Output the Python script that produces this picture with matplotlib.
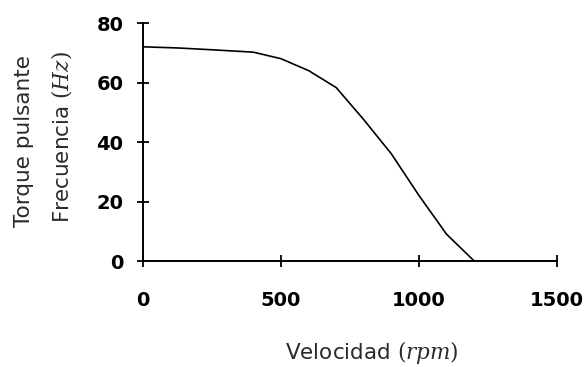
#!/usr/bin/env python3
"""Torque pulsante / frecuencia vs velocidad."""

import matplotlib

matplotlib.use("Agg")
import matplotlib.pyplot as plt

plt.rcParams["mathtext.fontset"] = "dejavuserif"

velocidad_rpm = [0, 130, 250, 400, 500, 600, 700, 800, 900, 1000, 1100, 1200]
frecuencia_hz = [72, 71.6, 71.0, 70.2, 68, 64, 58.3, 47.5, 36, 22, 9, 0]

x_ticks = [0, 500, 1000, 1500]
y_ticks = [0, 20, 40, 60, 80]

text_color = "#2a2a2a"

fig = plt.figure(figsize=(5.87, 3.67), dpi=100)
ax = fig.add_axes([0.2436, 0.2888, 0.7053, 0.6485])

ax.plot(velocidad_rpm, frecuencia_hz, color="black", lw=1.2)

ax.set_xlim(0, 1500)
ax.set_ylim(0, 80)
ax.set_xticks(x_ticks)
ax.set_yticks(y_ticks)

for side in ("top", "right"):
    ax.spines[side].set_visible(False)
for side in ("left", "bottom"):
    ax.spines[side].set_linewidth(1.4)
    ax.spines[side].set_color("black")

ax.tick_params(direction="inout", length=9, width=1.3, color="black", labelsize=14)
ax.tick_params(axis="x", pad=17)
ax.tick_params(axis="y", pad=9.5)
for lab in ax.get_xticklabels() + ax.get_yticklabels():
    lab.set_fontfamily("DejaVu Sans")
    lab.set_fontweight("bold")
    lab.set_color("black")

fig.text(372 / 587, 1 - 352 / 367, r"Velocidad $(\mathit{rpm})$", ha="center", va="center",
         fontsize=15.5, color=text_color, family="DejaVu Sans")
fig.text(24 / 587, 1 - 141 / 367, "Torque pulsante", rotation=90, ha="center", va="center",
         fontsize=15.5, color=text_color, family="DejaVu Sans")
fig.text(62 / 587, 1 - 137 / 367, r"Frecuencia $(\mathit{Hz})$", rotation=90, ha="center",
         va="center", fontsize=15.5, color=text_color, family="DejaVu Sans")

fig.savefig("out.png", dpi=100)
